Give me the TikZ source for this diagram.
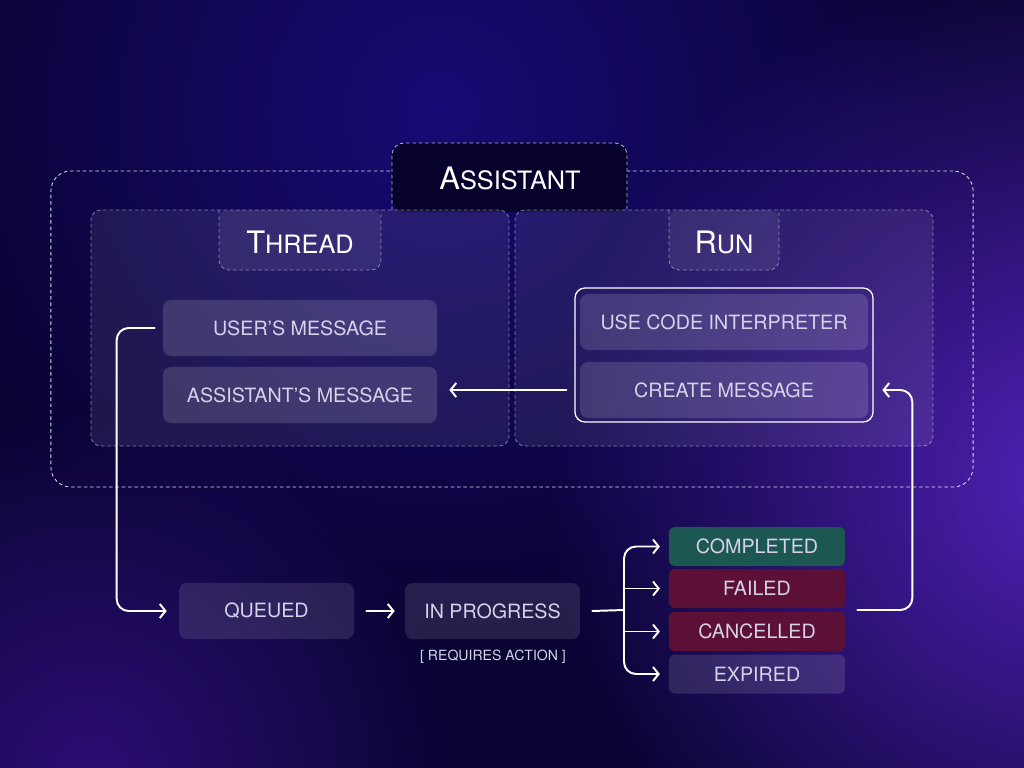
\documentclass[tikz,border=0pt]{standalone}
\usepackage{fontspec}
\setmainfont{TeX Gyre Heros}
\usetikzlibrary{arrows.meta,fadings}

\definecolor{bgbase}{HTML}{0A0434}
\definecolor{glowright}{HTML}{5022B8}
\definecolor{glowtop}{HTML}{170A74}
\definecolor{glowleft}{HTML}{2C0E74}
\definecolor{tabdark}{HTML}{07022C}
\definecolor{labeltext}{HTML}{D6D2EA}
\definecolor{donegreen}{HTML}{1C5752}
\definecolor{failred}{HTML}{5C1036}

\tikzfading[name=glowfade, inner color=transparent!0, outer color=transparent!100]

\newcommand\headcaps[2]{{\fontsize{22}{26}\selectfont #1}{\fontsize{18}{22}\selectfont #2}}

\tikzset{
	outerline/.style={draw=white, draw opacity=0.85, line width=0.6pt, dash pattern=on 2.5pt off 2pt},
	innerline/.style={draw=white, draw opacity=0.45, line width=0.6pt, dash pattern=on 2.5pt off 2pt},
	groupbox/.style={innerline, fill=white, fill opacity=0.08, text opacity=1, rounded corners=0.25cm, minimum width=10.45cm, minimum height=5.9cm},
	label/.style={text=labeltext, font=\fontsize{14}{16}\selectfont, inner sep=0pt},
	msgbox/.style={label, fill=white, fill opacity=0.14, text opacity=1, rounded corners=0.2cm, minimum width=6.85cm, minimum height=1.4cm},
	runmsg/.style={msgbox, minimum width=7.2cm},
	stepbox/.style={msgbox, fill opacity=0.11, minimum width=4.375cm},
	statebox/.style={label, rounded corners=0.15cm, minimum width=4.4cm, minimum height=0.975cm},
	flow/.style={draw=white, line width=1.4pt, line cap=round, line join=round, rounded corners=0.3cm, -{Straight Barb[length=4pt,width=10pt]}},
	head/.style={text=white, inner sep=0pt}
}

\begin{document}
\begin{tikzpicture}[x=0.025cm,y=-0.025cm]
	\useasboundingbox (0,0) rectangle (1024,768);
	% background
	\fill[bgbase] (0,0) rectangle (1024,768);
	\fill[glowtop, path fading=glowfade] (440,110) circle (13cm);
	\fill[glowright, path fading=glowfade] (1070,480) circle (13cm);
	\fill[glowleft, path fading=glowfade] (90,770) circle (9cm);

	% assistant frame and tab
	\node[outerline, rounded corners=0.5cm, minimum width=23.05cm, minimum height=7.9cm] (assistant) at (512,329) {};
	\fill[tabdark, rounded corners=0.3cm] (392,212) -- (392,143) -- (627,143) -- (627,212) -- cycle;
	\draw[innerline, draw opacity=0.7, rounded corners=0.3cm] (392,210) -- (392,143) -- (627,143) -- (627,210);
	\node[head] (assistanttitle) at (510,178) {\headcaps{A}{SSISTANT}};

	% thread and run groups
	\node[groupbox] (thread) at (300,328) {};
	\node[groupbox] (run) at (724,328) {};
	\foreach \x/\w in {219/381,669/779}{
		\fill[white, fill opacity=0.08, rounded corners=0.25cm] (\x,210) -- (\x,270) -- (\w,270) -- (\w,210) -- cycle;
		\draw[innerline, rounded corners=0.25cm] (\x,210) -- (\x,270) -- (\w,270) -- (\w,210);
	}
	\node[head] (threadtitle) at (300,242) {\headcaps{T}{HREAD}};
	\node[head] (runtitle) at (724,242) {\headcaps{R}{UN}};

	% messages
	\node[msgbox] (umsg) at (300,328) {USER’S MESSAGE};
	\node[msgbox] (amsg) at (300,395) {ASSISTANT’S MESSAGE};
	\node[draw=white, line width=0.9pt, rounded corners=0.25cm, minimum width=7.45cm, minimum height=3.35cm] (runbox) at (724,355) {};
	\node[runmsg] (ucode) at (724,322) {USE CODE INTERPRETER};
	\node[runmsg] (cmsg) at (724,390) {CREATE MESSAGE};

	% run steps
	\node[stepbox] (queued) at (266.5,611) {QUEUED};
	\node[stepbox] (inprog) at (492.5,611) {IN PROGRESS};
	\node[label, font=\fontsize{10}{12}\selectfont] (requires) at (493,657) {[ REQUIRES ACTION ]};

	% end states
	\node[statebox, fill=donegreen] (completed) at (757,546.5) {COMPLETED};
	\node[statebox, fill=failred] (failed) at (757,588.5) {FAILED};
	\node[statebox, fill=failred] (cancelled) at (757,631.5) {CANCELLED};
	\node[statebox, fill=white, fill opacity=0.12, text opacity=1] (expired) at (757,674) {EXPIRED};

	% connectors
	\coordinate (split) at (624,610);
	\coordinate (back) at ([xshift=1.1cm]cmsg.east);
	\draw[flow] ([xshift=-0.2cm]cmsg.west -| runbox.west) -- ([xshift=0.3cm]amsg.east |- cmsg.west);
	\draw[flow] ([xshift=-0.2cm]umsg.west) -- ++(-38,0) |- ([xshift=-0.3cm]queued.west);
	\draw[flow] ([xshift=0.3cm]queued.east) -- ([xshift=-0.25cm]inprog.west);
	\draw[flow, -] ([xshift=0.3cm]inprog.east) -- (split);
	\draw[flow, {Straight Barb[length=4pt,width=10pt]}-{Straight Barb[length=4pt,width=10pt]}] ([xshift=-0.22cm]completed.west) -| (split) |- ([xshift=-0.22cm]expired.west);
	\foreach \s in {failed,cancelled}{
		\draw[flow] (split |- \s.west) -- ([xshift=-0.22cm]\s.west);
	}
	\draw[flow] ([xshift=0.3cm]failed.east |- split) -| (back) -- ([xshift=0.35cm]cmsg.east);
\end{tikzpicture}
\end{document}
